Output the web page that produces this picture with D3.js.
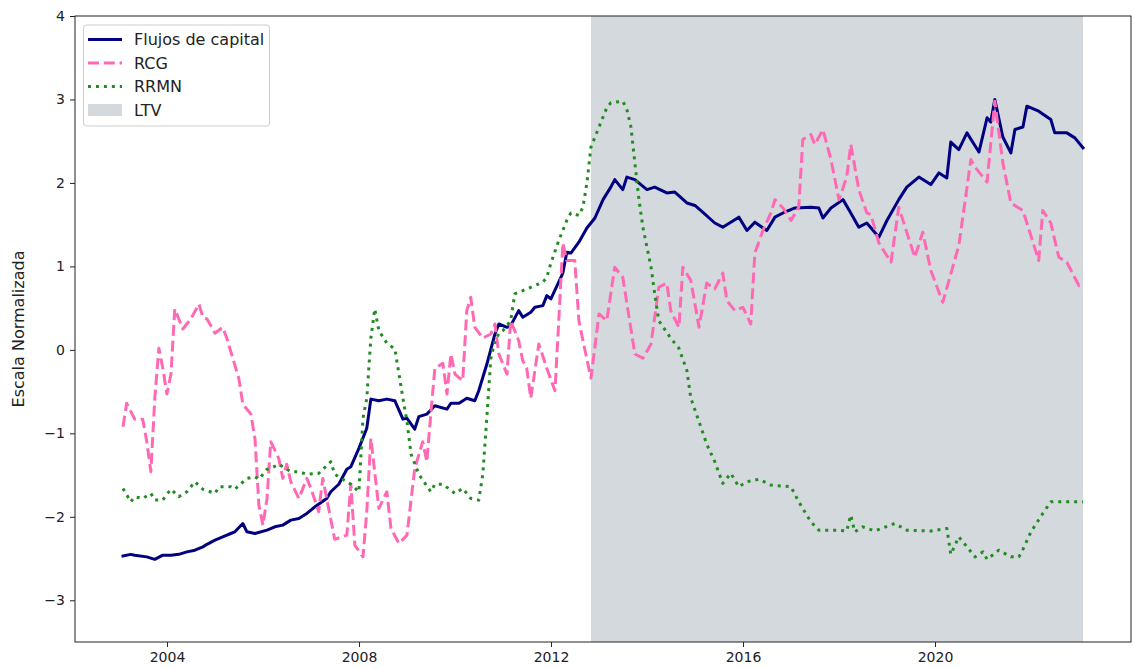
<!DOCTYPE html>
<html>
<head>
<meta charset="utf-8">
<script src="https://cdn.jsdelivr.net/npm/d3@7"></script>
<style>
  html, body { margin: 0; padding: 0; background: #fff; }
  svg { display: block; font-family: "DejaVu Sans", sans-serif; }
</style>
</head>
<body>
<svg id="chart" width="1134" height="668"></svg>
<script>
// Monthly series (month-end), standardized values
const flujosFechas = ["2003-01","2003-03","2003-04","2003-07","2003-09","2003-11","2004-01","2004-03","2004-05","2004-07","2004-09","2004-10","2004-12","2005-02","2005-04","2005-05","2005-07","2005-08","2005-10","2006-01","2006-03","2006-05","2006-07","2006-09","2006-11","2007-01","2007-04","2007-05","2007-07","2007-09","2007-10","2007-12","2008-02","2008-03","2008-05","2008-07","2008-09","2008-11","2008-12","2009-02","2009-03","2009-05","2009-07","2009-10","2009-11","2010-01","2010-03","2010-05","2010-06","2010-08","2010-10","2010-11","2011-01","2011-02","2011-04","2011-05","2011-07","2011-08","2011-10","2011-11","2011-12","2012-03","2012-04","2012-05","2012-07","2012-09","2012-11","2013-01","2013-03","2013-04","2013-06","2013-07","2013-09","2013-12","2014-02","2014-05","2014-07","2014-10","2014-12","2015-02","2015-05","2015-07","2015-11","2016-01","2016-03","2016-06","2016-08","2016-10","2017-01","2017-05","2017-07","2017-08","2017-10","2018-01","2018-03","2018-05","2018-07","2018-10","2018-12","2019-03","2019-05","2019-08","2019-11","2020-01","2020-03","2020-04","2020-06","2020-08","2020-11","2021-01","2021-02","2021-03","2021-05","2021-07","2021-08","2021-10","2021-11","2022-02","2022-05","2022-06","2022-09","2022-11","2023-01"];
const flujosValores = [-2.47,-2.45,-2.46,-2.48,-2.51,-2.46,-2.46,-2.45,-2.42,-2.40,-2.36,-2.33,-2.28,-2.24,-2.20,-2.18,-2.08,-2.18,-2.20,-2.16,-2.12,-2.10,-2.04,-2.02,-1.96,-1.88,-1.78,-1.70,-1.61,-1.43,-1.40,-1.18,-0.94,-0.59,-0.61,-0.59,-0.61,-0.83,-0.82,-0.95,-0.80,-0.77,-0.67,-0.71,-0.64,-0.64,-0.58,-0.61,-0.49,-0.17,0.19,0.31,0.27,0.29,0.47,0.39,0.45,0.51,0.53,0.65,0.61,0.92,1.17,1.16,1.29,1.46,1.58,1.80,1.95,2.04,1.92,2.07,2.04,1.92,1.95,1.88,1.89,1.76,1.73,1.65,1.52,1.47,1.59,1.43,1.53,1.43,1.59,1.64,1.70,1.71,1.70,1.58,1.70,1.80,1.64,1.47,1.52,1.35,1.55,1.80,1.95,2.07,1.98,2.12,2.06,2.49,2.40,2.60,2.37,2.78,2.73,3.00,2.55,2.36,2.64,2.67,2.92,2.86,2.76,2.60,2.60,2.54,2.42];

const rcgFechas = ["2003-01","2003-02","2003-04","2003-06","2003-07","2003-08","2003-09","2003-10","2003-11","2003-12","2004-01","2004-02","2004-04","2004-06","2004-08","2004-09","2004-10","2004-12","2005-02","2005-03","2005-06","2005-07","2005-09","2005-10","2005-11","2005-12","2006-01","2006-02","2006-04","2006-05","2006-06","2006-07","2006-09","2006-11","2006-12","2007-02","2007-03","2007-04","2007-06","2007-09","2007-10","2007-11","2008-01","2008-02","2008-03","2008-05","2008-07","2008-08","2008-10","2008-12","2009-02","2009-04","2009-05","2009-06","2009-07","2009-09","2009-10","2009-11","2009-12","2010-02","2010-03","2010-04","2010-05","2010-07","2010-09","2010-10","2010-11","2011-01","2011-02","2011-04","2011-05","2011-06","2011-07","2011-09","2011-11","2012-01","2012-02","2012-03","2012-04","2012-06","2012-07","2012-08","2012-10","2012-12","2013-02","2013-04","2013-06","2013-09","2013-11","2014-01","2014-03","2014-05","2014-06","2014-08","2014-09","2014-11","2015-01","2015-03","2015-05","2015-07","2015-08","2015-10","2015-12","2016-02","2016-03","2016-05","2016-07","2016-08","2016-10","2016-12","2017-02","2017-03","2017-05","2017-06","2017-08","2017-10","2017-12","2018-02","2018-03","2018-05","2018-07","2018-08","2018-10","2019-01","2019-03","2019-07","2019-09","2019-11","2020-02","2020-06","2020-09","2020-10","2021-01","2021-03","2021-05","2021-07","2021-10","2022-02","2022-03","2022-05","2022-07","2022-09","2022-12","2023-01"];
const rcgValores = [-0.92,-0.64,-0.83,-0.83,-1.10,-1.46,-0.58,0.02,-0.22,-0.53,-0.29,0.49,0.25,0.37,0.55,0.39,0.37,0.20,0.27,0.14,-0.34,-0.65,-0.77,-1.06,-1.86,-2.10,-1.78,-1.10,-1.30,-1.54,-1.37,-1.58,-1.78,-1.54,-1.66,-1.94,-1.54,-1.78,-2.27,-2.22,-1.61,-2.34,-2.48,-1.94,-1.06,-1.90,-1.70,-2.14,-2.32,-2.22,-1.42,-1.10,-1.34,-0.77,-0.22,-0.16,-0.53,-0.05,-0.29,-0.37,0.47,0.63,0.27,0.14,0.19,0.31,-0.05,-0.29,0.35,0.11,-0.13,-0.22,-0.58,0.07,-0.22,-0.49,0.35,1.28,1.07,1.07,0.35,0.11,-0.34,0.43,0.35,0.99,0.87,-0.05,-0.10,0.07,0.75,0.80,0.47,0.27,0.99,0.83,0.27,0.80,0.73,0.92,0.59,0.47,0.51,0.31,1.16,1.43,1.64,1.80,1.70,1.55,1.71,2.52,2.58,2.46,2.64,2.28,1.80,2.07,2.46,1.92,1.64,1.62,1.28,1.05,1.71,1.11,1.41,0.95,0.57,1.25,2.28,2.19,2.01,2.98,2.24,1.76,1.67,1.07,1.67,1.52,1.11,1.05,0.77,0.80];

const rrmnFechas = ["2003-01","2003-03","2003-04","2003-06","2003-08","2003-09","2003-11","2003-12","2004-01","2004-03","2004-05","2004-07","2004-09","2004-12","2005-01","2005-04","2005-05","2005-08","2005-10","2005-11","2006-01","2006-02","2006-04","2006-07","2006-09","2006-11","2007-02","2007-05","2007-06","2007-08","2007-10","2007-12","2008-01","2008-02","2008-03","2008-04","2008-05","2008-07","2008-09","2008-11","2008-12","2009-01","2009-03","2009-06","2009-07","2009-09","2009-12","2010-02","2010-04","2010-06","2010-07","2010-08","2010-09","2010-10","2010-11","2010-12","2011-02","2011-03","2011-05","2011-07","2011-10","2011-11","2011-12","2012-02","2012-04","2012-05","2012-07","2012-08","2012-09","2012-10","2012-12","2013-02","2013-03","2013-06","2013-07","2013-08","2013-09","2013-10","2013-11","2014-01","2014-02","2014-03","2014-06","2014-08","2014-10","2014-11","2015-01","2015-03","2015-05","2015-07","2015-09","2015-11","2016-01","2016-04","2016-07","2016-12","2017-02","2017-05","2017-07","2017-12","2018-02","2018-03","2018-04","2018-06","2018-09","2019-02","2019-05","2019-11","2020-03","2020-04","2020-06","2020-08","2020-10","2020-12","2021-01","2021-04","2021-07","2021-09","2021-10","2021-12","2022-03","2022-05","2023-01"];
const rrmnValores = [-1.66,-1.82,-1.76,-1.78,-1.72,-1.80,-1.80,-1.73,-1.67,-1.76,-1.70,-1.58,-1.67,-1.72,-1.64,-1.64,-1.67,-1.54,-1.52,-1.55,-1.43,-1.42,-1.37,-1.46,-1.46,-1.49,-1.48,-1.34,-1.49,-1.55,-1.61,-1.70,-0.82,-0.58,0.14,0.49,0.23,0.08,0.01,-0.58,-0.86,-1.25,-1.49,-1.70,-1.61,-1.61,-1.72,-1.66,-1.78,-1.80,-1.49,-0.80,-0.10,0.10,0.20,0.23,0.35,0.67,0.71,0.75,0.81,0.87,1.04,1.31,1.55,1.64,1.61,1.71,2.00,2.43,2.67,2.90,2.96,2.98,2.88,2.67,2.24,1.80,1.47,0.99,0.67,0.35,0.14,0.02,-0.25,-0.58,-0.86,-1.13,-1.34,-1.60,-1.48,-1.64,-1.58,-1.55,-1.62,-1.64,-1.82,-2.06,-2.16,-2.16,-2.17,-1.98,-2.18,-2.12,-2.17,-2.08,-2.16,-2.17,-2.14,-2.45,-2.24,-2.36,-2.48,-2.42,-2.51,-2.40,-2.48,-2.48,-2.39,-2.18,-1.96,-1.82,-1.82];

// LTV policy period (shaded band)
const ltvInicio = "2012-10";
const ltvFin = "2023-01";

const yTicks = [-3, -2, -1, 0, 1, 2, 3, 4];
const xTickYears = [2004, 2008, 2012, 2016, 2020];
const yLabel = "Escala Normalizada";
const nombres = ["Flujos de capital", "RCG", "RRMN", "LTV"];

// month-end date from "YYYY-MM"
const fin = s => { const [y, m] = s.split("-").map(Number); return new Date(y, m, 0); };

const series = [
  { name: nombres[0], fechas: flujosFechas, valores: flujosValores, color: "#000080", dash: null, cap: "square" },
  { name: nombres[1], fechas: rcgFechas, valores: rcgValores, color: "#ff69b4", dash: "11,4.8", cap: "butt" },
  { name: nombres[2], fechas: rrmnFechas, valores: rrmnValores, color: "#228b22", dash: "3,4.95", cap: "butt" }
];

const W = 1134, H = 668;
const m = { top: 16, right: 3, bottom: 26, left: 75 };
const iw = W - m.left - m.right, ih = H - m.top - m.bottom;

const svg = d3.select("#chart");
const g = svg.append("g").attr("transform", `translate(${m.left},${m.top})`);

// x domain: data extent padded by 5% each side
const allDates = series.flatMap(s => s.fechas.map(fin));
const [d0, d1] = d3.extent(allDates);
const pad = (d1 - d0) * 0.05;
const x = d3.scaleTime().domain([new Date(+d0 - pad), new Date(+d1 + pad)]).range([0, iw]);
const y = d3.scaleLinear().domain([-3.5, 4]).range([ih, 0]);

// shaded LTV band
g.append("rect")
  .attr("x", x(fin(ltvInicio)))
  .attr("y", 0)
  .attr("width", x(fin(ltvFin)) - x(fin(ltvInicio)))
  .attr("height", ih)
  .attr("fill", "#708090").attr("fill-opacity", 0.3);

const line = d3.line().x(d => x(d[0])).y(d => y(d[1]));

series.forEach(s => {
  const pts = s.fechas.map((f, i) => [fin(f), s.valores[i]]);
  g.append("path")
    .datum(pts)
    .attr("d", line)
    .attr("fill", "none")
    .attr("stroke", s.color)
    .attr("stroke-width", 3)
    .attr("stroke-linejoin", "round")
    .attr("stroke-linecap", s.cap)
    .attr("stroke-dasharray", s.dash);
});

// axes
const fmtY = v => (v < 0 ? "\u2212" + Math.abs(v) : String(v));
const xAxis = d3.axisBottom(x)
  .tickValues(xTickYears.map(yr => new Date(yr, 0, 1)))
  .tickFormat(d3.timeFormat("%Y"))
  .tickSize(5).tickPadding(5);
const yAxis = d3.axisLeft(y).tickValues(yTicks).tickFormat(fmtY).tickSize(5).tickPadding(5);

const gx = g.append("g").attr("transform", `translate(0,${ih})`).call(xAxis);
const gy = g.append("g").call(yAxis);
[gx, gy].forEach(a => {
  a.select(".domain").remove();
  a.selectAll("line").attr("stroke", "#222").attr("stroke-width", 1);
  a.selectAll("text").attr("fill", "#222").style("font-size", "14px").style("font-family", "DejaVu Sans");
});

// frame
g.append("rect").attr("x", 0).attr("y", 0).attr("width", iw).attr("height", ih)
  .attr("fill", "none").attr("stroke", "#222").attr("stroke-width", 1);

// y label
svg.append("text")
  .attr("transform", `translate(24,${m.top + ih / 2}) rotate(-90)`)
  .attr("text-anchor", "middle")
  .attr("fill", "#222")
  .style("font-size", "16px")
  .text(yLabel);

// legend
const lg = svg.append("g").attr("transform", "translate(83.5,25)");
lg.append("rect").attr("width", 186).attr("height", 101).attr("rx", 3)
  .attr("fill", "#fff").attr("fill-opacity", 0.8).attr("stroke", "#ccc").attr("stroke-width", 1);
const rowY = [14.5, 38, 61.5, 85];
series.forEach((s, i) => {
  lg.append("line").attr("x1", 4.5).attr("x2", 38.5).attr("y1", rowY[i]).attr("y2", rowY[i])
    .attr("stroke", s.color).attr("stroke-width", 3)
    .attr("stroke-linecap", "butt")
    .attr("stroke-dasharray", s.dash);
});
lg.append("rect").attr("x", 4.5).attr("y", rowY[3] - 6).attr("width", 34).attr("height", 12)
  .attr("fill", "#708090").attr("fill-opacity", 0.3);
nombres.forEach((n, i) => {
  lg.append("text").attr("x", 50.5).attr("y", rowY[i]).attr("dy", "0.35em")
    .attr("fill", "#222").style("font-size", "16px").text(n);
});
</script>
</body>
</html>
